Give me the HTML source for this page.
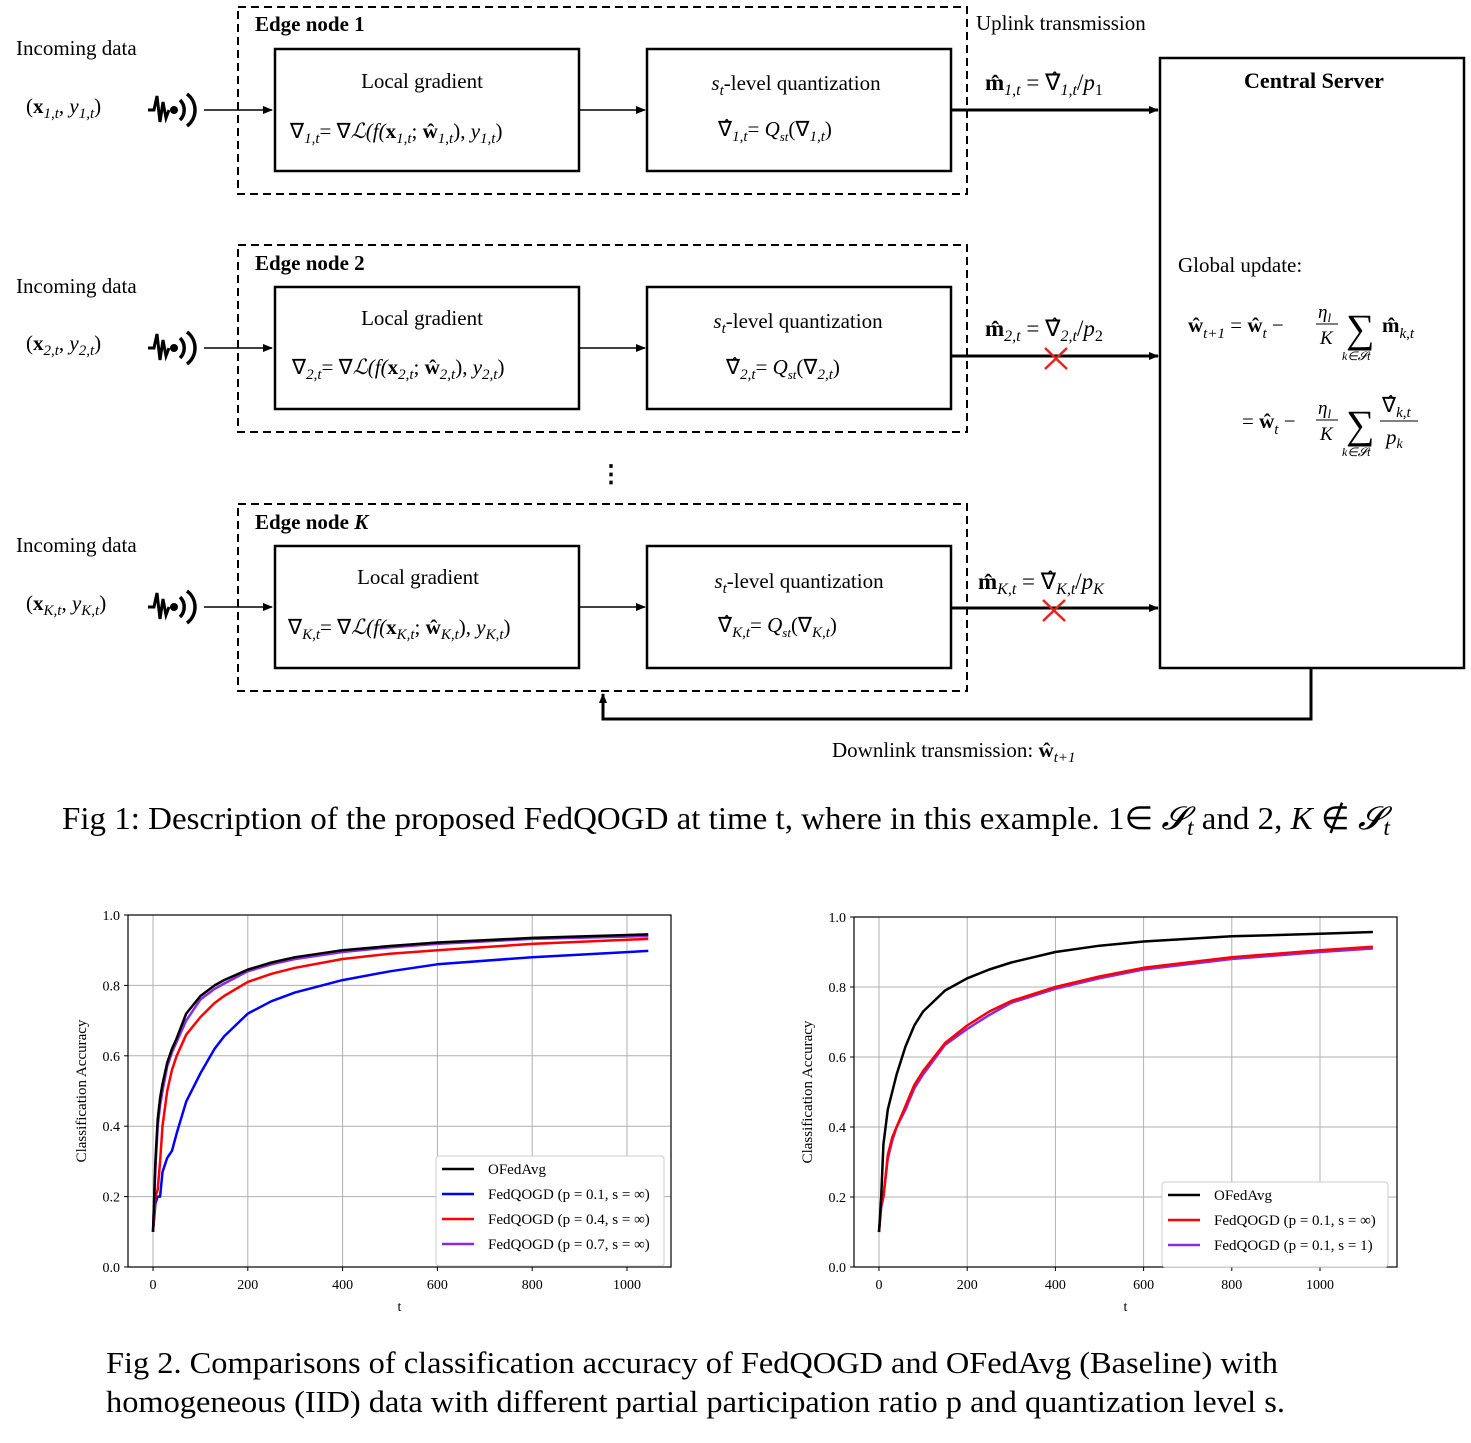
<!DOCTYPE html>
<html><head><meta charset="utf-8"><style>
body{margin:0;background:#fff;}
svg{display:block;font-family:"Liberation Serif",serif;}
.m{font-style:italic;}
</style></head><body>
<svg width="1471" height="1443" viewBox="0 0 1471 1443">
<defs><marker id="ah" markerWidth="10" markerHeight="8" refX="9" refY="4" orient="auto" markerUnits="userSpaceOnUse"><path d="M0,0L10,4L0,8z" fill="#000"/></marker>
<g id="sig"><polyline points="-2,0 4,0 7,-14 10,12 13,-8 16,8 19,0" fill="none" stroke="#000" stroke-width="3"/><circle cx="24" cy="0" r="4" fill="#000"/><path d="M30,-10A14,14 0 0 1 30,10" fill="none" stroke="#000" stroke-width="3.5"/><path d="M37,-16A20,20 0 0 1 37,16" fill="none" stroke="#000" stroke-width="3.5"/></g>
</defs>
<g id="diagram" font-size="21">
<text x="976" y="30">Uplink transmission</text>
<g>
<rect x="1160" y="58" width="304" height="610" fill="none" stroke="#000" stroke-width="2.5"/>
<text x="1314" y="88" text-anchor="middle" font-weight="bold" font-size="22">Central Server</text>
<text x="1178" y="272">Global update:</text>
<text x="1188" y="332" font-size="21"><tspan font-weight="bold">ŵ</tspan><tspan class="m" font-size="15" dy="6">t+1</tspan><tspan dy="-6"> = </tspan><tspan font-weight="bold">ŵ</tspan><tspan class="m" font-size="15" dy="6">t</tspan><tspan dy="-6"> − </tspan></text>
<text x="1318" y="318" class="m" font-size="19">η<tspan font-size="13" dy="4">l</tspan></text><line x1="1316" y1="324" x2="1338" y2="324" stroke="#000"/><text x="1320" y="344" class="m" font-size="19">K</text>
<text x="1346" y="342" font-size="40">∑</text><text x="1342" y="360" class="m" font-size="12">k∈𝓢t</text>
<text x="1382" y="332" font-weight="bold">m̂<tspan class="m" font-size="15" font-weight="normal" dy="6">k,t</tspan></text>
<text x="1242" y="428">= <tspan font-weight="bold">ŵ</tspan><tspan class="m" font-size="15" dy="6">t</tspan><tspan dy="-6"> − </tspan></text>
<text x="1318" y="414" class="m" font-size="19">η<tspan font-size="13" dy="4">l</tspan></text><line x1="1316" y1="420" x2="1338" y2="420" stroke="#000"/><text x="1320" y="440" class="m" font-size="19">K</text>
<text x="1346" y="438" font-size="40">∑</text><text x="1342" y="456" class="m" font-size="12">k∈𝓢t</text>
<text x="1382" y="412">∇̂<tspan class="m" font-size="15" dy="5">k,t</tspan></text><line x1="1380" y1="421" x2="1418" y2="421" stroke="#000"/><text x="1386" y="444" class="m">p<tspan font-size="14" dy="4">k</tspan></text>
</g>
<g>
<rect x="238" y="7" width="729" height="187" fill="none" stroke="#000" stroke-width="2" stroke-dasharray="8,5"/>
<text x="255" y="31" font-weight="bold">Edge node 1</text>
<text x="16" y="55">Incoming data</text>
<text x="26" y="113">(<tspan font-weight="bold">x</tspan><tspan class="m" font-size="15" dy="5">1,t</tspan><tspan dy="-5">, </tspan><tspan class="m">y</tspan><tspan class="m" font-size="15" dy="5">1,t</tspan><tspan dy="-5">)</tspan></text>
<use href="#sig" x="150" y="110"/>
<line x1="204" y1="110" x2="272" y2="110" stroke="#000" stroke-width="1.5" marker-end="url(#ah)"/>
<rect x="275" y="49" width="304" height="122" fill="none" stroke="#000" stroke-width="2.5"/>
<text x="422" y="88" text-anchor="middle">Local gradient</text>
<text x="290" y="138">∇<tspan class="m" font-size="15" dy="5">1,t</tspan><tspan dy="-5">= ∇</tspan><tspan class="m">ℒ(f(</tspan><tspan font-weight="bold">x</tspan><tspan class="m" font-size="15" dy="5">1,t</tspan><tspan dy="-5">; </tspan><tspan font-weight="bold">ŵ</tspan><tspan class="m" font-size="15" dy="5">1,t</tspan><tspan dy="-5">), </tspan><tspan class="m">y</tspan><tspan class="m" font-size="15" dy="5">1,t</tspan><tspan dy="-5">)</tspan></text>
<line x1="579" y1="110" x2="645" y2="110" stroke="#000" stroke-width="1.5" marker-end="url(#ah)"/>
<rect x="647" y="49" width="304" height="122" fill="none" stroke="#000" stroke-width="2.5"/>
<text x="796" y="90" text-anchor="middle"><tspan class="m">s</tspan><tspan class="m" font-size="15" dy="5">t</tspan><tspan dy="-5">-level quantization</tspan></text>
<text x="718" y="136">∇̂<tspan class="m" font-size="15" dy="5">1,t</tspan><tspan dy="-5">= </tspan><tspan class="m">Q</tspan><tspan class="m" font-size="13" dy="5">st</tspan><tspan dy="-5">(∇</tspan><tspan class="m" font-size="15" dy="5">1,t</tspan><tspan dy="-5">)</tspan></text>
<line x1="951" y1="110" x2="1158" y2="110" stroke="#000" stroke-width="3" marker-end="url(#ah)"/>
<text x="985" y="90" font-size="23"><tspan font-weight="bold">m̂</tspan><tspan class="m" font-size="16" dy="5">1,t</tspan><tspan dy="-5"> = ∇̂</tspan><tspan class="m" font-size="16" dy="5">1,t</tspan><tspan dy="-5">/</tspan><tspan class="m">p</tspan><tspan font-size="16" dy="5">1</tspan></text>
</g>
<g>
<rect x="238" y="245" width="729" height="187" fill="none" stroke="#000" stroke-width="2" stroke-dasharray="8,5"/>
<text x="255" y="270" font-weight="bold">Edge node 2</text>
<text x="16" y="293">Incoming data</text>
<text x="26" y="350">(<tspan font-weight="bold">x</tspan><tspan class="m" font-size="15" dy="5">2,t</tspan><tspan dy="-5">, </tspan><tspan class="m">y</tspan><tspan class="m" font-size="15" dy="5">2,t</tspan><tspan dy="-5">)</tspan></text>
<use href="#sig" x="150" y="348"/>
<line x1="204" y1="348" x2="272" y2="348" stroke="#000" stroke-width="1.5" marker-end="url(#ah)"/>
<rect x="275" y="287" width="304" height="122" fill="none" stroke="#000" stroke-width="2.5"/>
<text x="422" y="325" text-anchor="middle">Local gradient</text>
<text x="292" y="374">∇<tspan class="m" font-size="15" dy="5">2,t</tspan><tspan dy="-5">= ∇</tspan><tspan class="m">ℒ(f(</tspan><tspan font-weight="bold">x</tspan><tspan class="m" font-size="15" dy="5">2,t</tspan><tspan dy="-5">; </tspan><tspan font-weight="bold">ŵ</tspan><tspan class="m" font-size="15" dy="5">2,t</tspan><tspan dy="-5">), </tspan><tspan class="m">y</tspan><tspan class="m" font-size="15" dy="5">2,t</tspan><tspan dy="-5">)</tspan></text>
<line x1="579" y1="348" x2="645" y2="348" stroke="#000" stroke-width="1.5" marker-end="url(#ah)"/>
<rect x="647" y="287" width="304" height="122" fill="none" stroke="#000" stroke-width="2.5"/>
<text x="798" y="328" text-anchor="middle"><tspan class="m">s</tspan><tspan class="m" font-size="15" dy="5">t</tspan><tspan dy="-5">-level quantization</tspan></text>
<text x="726" y="374">∇̂<tspan class="m" font-size="15" dy="5">2,t</tspan><tspan dy="-5">= </tspan><tspan class="m">Q</tspan><tspan class="m" font-size="13" dy="5">st</tspan><tspan dy="-5">(∇</tspan><tspan class="m" font-size="15" dy="5">2,t</tspan><tspan dy="-5">)</tspan></text>
<line x1="951" y1="356" x2="1158" y2="356" stroke="#000" stroke-width="3" marker-end="url(#ah)"/>
<text x="985" y="336" font-size="23"><tspan font-weight="bold">m̂</tspan><tspan class="m" font-size="16" dy="5">2,t</tspan><tspan dy="-5"> = ∇̂</tspan><tspan class="m" font-size="16" dy="5">2,t</tspan><tspan dy="-5">/</tspan><tspan class="m">p</tspan><tspan font-size="16" dy="5">2</tspan></text>
<path d="M1045,348L1067,369M1067,348L1045,369" stroke="#e8231b" stroke-width="2.5"/>
</g>
<text x="599" y="482" font-size="24" font-weight="bold">⋮</text>
<g>
<rect x="238" y="504" width="729" height="187" fill="none" stroke="#000" stroke-width="2" stroke-dasharray="8,5"/>
<text x="255" y="529" font-weight="bold">Edge node <tspan font-style="italic">K</tspan></text>
<text x="16" y="552">Incoming data</text>
<text x="26" y="610">(<tspan font-weight="bold">x</tspan><tspan class="m" font-size="15" dy="5">K,t</tspan><tspan dy="-5">, </tspan><tspan class="m">y</tspan><tspan class="m" font-size="15" dy="5">K,t</tspan><tspan dy="-5">)</tspan></text>
<use href="#sig" x="150" y="607"/>
<line x1="204" y1="607" x2="272" y2="607" stroke="#000" stroke-width="1.5" marker-end="url(#ah)"/>
<rect x="275" y="546" width="304" height="122" fill="none" stroke="#000" stroke-width="2.5"/>
<text x="418" y="584" text-anchor="middle">Local gradient</text>
<text x="288" y="634">∇<tspan class="m" font-size="15" dy="5">K,t</tspan><tspan dy="-5">= ∇</tspan><tspan class="m">ℒ(f(</tspan><tspan font-weight="bold">x</tspan><tspan class="m" font-size="15" dy="5">K,t</tspan><tspan dy="-5">; </tspan><tspan font-weight="bold">ŵ</tspan><tspan class="m" font-size="15" dy="5">K,t</tspan><tspan dy="-5">), </tspan><tspan class="m">y</tspan><tspan class="m" font-size="15" dy="5">K,t</tspan><tspan dy="-5">)</tspan></text>
<line x1="579" y1="607" x2="645" y2="607" stroke="#000" stroke-width="1.5" marker-end="url(#ah)"/>
<rect x="647" y="546" width="304" height="122" fill="none" stroke="#000" stroke-width="2.5"/>
<text x="799" y="588" text-anchor="middle"><tspan class="m">s</tspan><tspan class="m" font-size="15" dy="5">t</tspan><tspan dy="-5">-level quantization</tspan></text>
<text x="718" y="632">∇̂<tspan class="m" font-size="15" dy="5">K,t</tspan><tspan dy="-5">= </tspan><tspan class="m">Q</tspan><tspan class="m" font-size="13" dy="5">st</tspan><tspan dy="-5">(∇</tspan><tspan class="m" font-size="15" dy="5">K,t</tspan><tspan dy="-5">)</tspan></text>
<line x1="951" y1="608" x2="1158" y2="608" stroke="#000" stroke-width="3" marker-end="url(#ah)"/>
<text x="978" y="589" font-size="23"><tspan font-weight="bold">m̂</tspan><tspan class="m" font-size="16" dy="5">K,t</tspan><tspan dy="-5"> = ∇̂</tspan><tspan class="m" font-size="16" dy="5">K,t</tspan><tspan dy="-5">/</tspan><tspan class="m">p</tspan><tspan class="m" font-size="16" dy="5">K</tspan></text>
<path d="M1043,600L1065,621M1065,600L1043,621" stroke="#e8231b" stroke-width="2.5"/>
</g>
<polyline points="1311,668 1311,719 603,719 603,694" fill="none" stroke="#000" stroke-width="3" marker-end="url(#ah)"/>
<text x="832" y="757">Downlink transmission: <tspan font-weight="bold">ŵ</tspan><tspan class="m" font-size="15" dy="5">t+1</tspan></text>
<text x="62" y="829" font-size="32" textLength="1328" lengthAdjust="spacingAndGlyphs">Fig 1: Description of the proposed FedQOGD at time t, where in this example. 1∈ <tspan class="m">𝓢</tspan><tspan class="m" font-size="23" dy="6">t</tspan><tspan dy="-6"> and 2, </tspan><tspan class="m">K</tspan> ∉ <tspan class="m">𝓢</tspan><tspan class="m" font-size="23" dy="6">t</tspan></text>
</g>
<g id="chart1"></g>
<g id="chart2"></g>
<text x="106" y="1373" font-size="31" textLength="1172" lengthAdjust="spacingAndGlyphs">Fig 2. Comparisons of classification accuracy of FedQOGD and OFedAvg (Baseline) with</text>
<text x="106" y="1412" font-size="31" textLength="1179" lengthAdjust="spacingAndGlyphs">homogeneous (IID) data with different partial participation ratio p and quantization level s.</text>
</svg>
<script>
const NS="http://www.w3.org/2000/svg";
// chart 1 data
const c1T=[0,5,10,15,20,30,40,50,70,100,130,150,200,250,300,400,500,600,800,1045];
const c1Black=[0.1,0.3,0.42,0.48,0.52,0.58,0.62,0.65,0.72,0.77,0.8,0.815,0.845,0.865,0.88,0.9,0.912,0.922,0.935,0.945];
const c1Purple=[0.1,0.28,0.4,0.46,0.5,0.57,0.61,0.64,0.7,0.76,0.79,0.805,0.84,0.86,0.875,0.895,0.908,0.918,0.932,0.94];
const c1Red=[0.1,0.2,0.22,0.3,0.4,0.5,0.56,0.6,0.66,0.71,0.75,0.77,0.81,0.833,0.85,0.875,0.89,0.9,0.918,0.932];
const c1Blue=[0.1,0.18,0.2,0.2,0.27,0.31,0.33,0.38,0.47,0.55,0.62,0.655,0.72,0.755,0.78,0.815,0.84,0.86,0.88,0.898];
// chart 2 data
const c2T=[0,5,10,20,30,40,60,80,100,150,200,250,300,400,500,600,800,1000,1120];
const c2Black=[0.1,0.2,0.35,0.45,0.5,0.55,0.63,0.69,0.73,0.79,0.825,0.85,0.87,0.9,0.918,0.93,0.945,0.952,0.957];
const c2Red=[0.1,0.18,0.2,0.32,0.37,0.4,0.46,0.52,0.56,0.64,0.69,0.73,0.76,0.8,0.83,0.855,0.885,0.905,0.915];
const c2Purple=[0.1,0.17,0.2,0.31,0.36,0.4,0.45,0.51,0.55,0.635,0.68,0.72,0.755,0.795,0.825,0.85,0.88,0.9,0.91];
const xTicks=[0,200,400,600,800,1000];
const yTicks=[0.0,0.2,0.4,0.6,0.8,1.0];

function el(tag,attrs,parent,txt){const e=document.createElementNS(NS,tag);for(const k in attrs)e.setAttribute(k,attrs[k]);if(txt!==undefined)e.textContent=txt;parent.appendChild(e);return e;}

function drawChart(g,cfg){
  const xs=v=>cfg.x0+v*cfg.xk, ys=v=>cfg.yb-(cfg.yb-cfg.yt)*v;
  xTicks.forEach(t=>{const x=xs(t);
    const l=el('line',{x1:x,x2:x,y1:cfg.top,y2:cfg.bot,stroke:'#b0b0b0','stroke-width':1},g);
    
    
    el('line',{x1:x,x2:x,y1:cfg.bot,y2:cfg.bot+4,stroke:'#000'},g);
    const tx=el('text',{x:x,y:cfg.bot+22,'text-anchor':'middle','font-size':14},g,String(t));
    
    
  });
  yTicks.forEach(t=>{const y=ys(t);
    const l=el('line',{x1:cfg.left,x2:cfg.right,y1:y,y2:y,stroke:'#b0b0b0','stroke-width':1},g);
    
    
    el('line',{x1:cfg.left-4,x2:cfg.left,y1:y,y2:y,stroke:'#000'},g);
    const tx=el('text',{x:cfg.left-8,y:y+5,'text-anchor':'end','font-size':14},g,t.toFixed(1));
    
    
  });
  const fr=el('rect',{x:cfg.left,y:cfg.top,width:cfg.right-cfg.left,height:cfg.bot-cfg.top,fill:'none',stroke:'#000','stroke-width':1.2},g);
  
  
  const xl=el('text',{x:(cfg.left+cfg.right)/2,y:cfg.bot+44,'text-anchor':'middle','font-size':14},g,'t');
  
  
  const yl=el('text',{x:0,y:0,'text-anchor':'middle','font-size':15,transform:`translate(${cfg.left-42},${(cfg.top+cfg.bot)/2}) rotate(-90)`},g,'Classification Accuracy');
  
  
  cfg.series.forEach(s=>{
    const d=cfg.T.map((t,i)=>(i?'L':'M')+xs(t).toFixed(1)+','+ys(s.v[i]).toFixed(1)).join('');
    const p=el('path',{d:d,fill:'none',stroke:s.c,'stroke-width':2.5,'stroke-linejoin':'round'},g);
    
    
  });
  const lg=el('g',{},g);
  
  
  const lx=cfg.legX, ly=cfg.legY, n=cfg.legend.length;
  el('rect',{x:lx,y:ly,width:cfg.legW,height:n*25+10,fill:'#fff',stroke:'#ccc',rx:3},lg);
  cfg.legend.forEach((s,i)=>{const y=ly+13+i*25;
    el('line',{x1:lx+6,x2:lx+38,y1:y,y2:y,stroke:s.c,'stroke-width':2.5},lg);
    const t=el('text',{x:lx+52,y:y+5,'font-size':15},lg,s.label);
    
    
  });
}
drawChart(document.getElementById('chart1'),{x0:153,xk:0.474,yb:1267,yt:915,left:128,right:671,top:915,bot:1267,T:c1T,
  series:[{id:'fedqogd-p01',c:'#0000ff',v:c1Blue},{id:'fedqogd-p04',c:'#ff0000',v:c1Red},{id:'fedqogd-p07',c:'#8a2be2',v:c1Purple},{id:'ofedavg',c:'#000',v:c1Black}],
  legend:[{c:'#000',label:'OFedAvg'},{c:'#0000ff',label:'FedQOGD (p = 0.1, s = ∞)'},{c:'#ff0000',label:'FedQOGD (p = 0.4, s = ∞)'},{c:'#8a2be2',label:'FedQOGD (p = 0.7, s = ∞)'}],
  legX:436,legY:1156,legW:228});
drawChart(document.getElementById('chart2'),{x0:879,xk:0.441,yb:1267,yt:917,left:854,right:1397,top:917,bot:1267,T:c2T,
  series:[{id:'fedqogd-s1',c:'#8a2be2',v:c2Purple},{id:'fedqogd-sinf',c:'#ff0000',v:c2Red},{id:'ofedavg',c:'#000',v:c2Black}],
  legend:[{c:'#000',label:'OFedAvg'},{c:'#ff0000',label:'FedQOGD (p = 0.1, s = ∞)'},{c:'#8a2be2',label:'FedQOGD (p = 0.1, s = 1)'}],
  legX:1162,legY:1182,legW:226});
</script>
</body></html>
